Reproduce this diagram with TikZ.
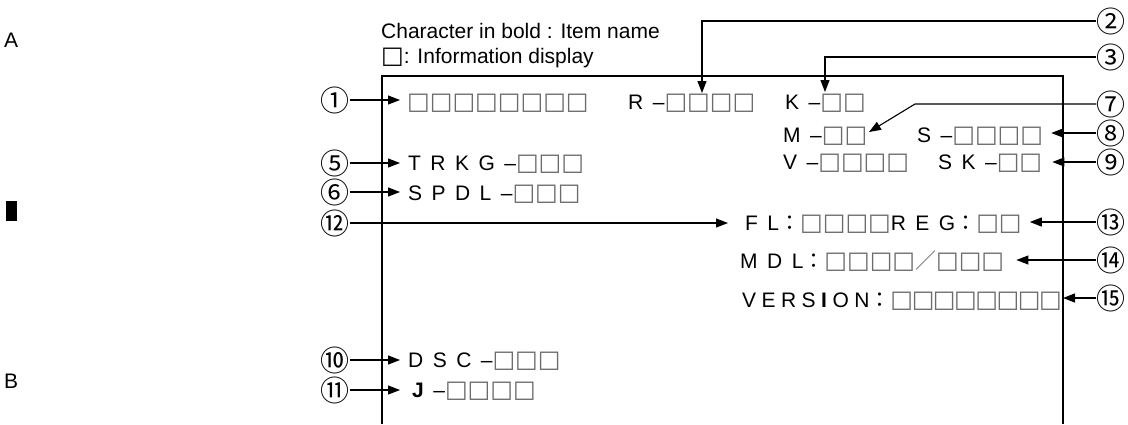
\documentclass[tikz,border=0pt]{standalone}
\usepackage{fontspec}
\setmainfont{Liberation Sans}
\newfontfamily\lsfont[LetterSpace=45]{Liberation Sans}
\newfontfamily\lsnarrow[LetterSpace=26]{Liberation Sans}
\newfontfamily\sqfont{DejaVu Sans}
\newfontfamily\sqnarrow[LetterSpace=-6]{DejaVu Sans}
\newfontfamily\numfont{Noto Sans CJK JP}
\usetikzlibrary{arrows.meta}
\definecolor{boxgray}{gray}{0.42}
\newcommand\sq{{\sqfont\fontsize{24}{28}\selectfont\color{boxgray}□}}
\newcommand\sqrow[1]{{\sqnarrow\fontsize{24}{28}\selectfont\color{boxgray}#1}}
\newcommand\fcolon{{\numfont\fontsize{21}{25}\selectfont ：}}
\newcommand\fslash{{\numfont\fontsize{21}{25}\selectfont\color{boxgray}／}}
\tikzset{
  disp/.style={font=\lsfont\fontsize{21}{25}\selectfont, inner sep=0pt,
    text height=15pt, text depth=0pt, anchor=base west},
  plain/.style={font=\fontsize{21}{25}\selectfont, inner sep=0pt, anchor=base west},
  num/.style={font=\numfont\fontsize{29}{30}\selectfont, inner sep=0pt},
  lead/.style={->, line width=1.1pt},
  frame/.style={line width=2.5pt}
}
\begin{document}
\begin{tikzpicture}[x=1pt, y=-1pt, >={Triangle[length=12pt,width=9pt]}]
    \useasboundingbox (0,0) rectangle (1128,424);

    % legend and margin marks
    \node[plain] (head1) at (381,38) {Character in bold : Item name};
    \node[plain] (head2) at (381,63) {{\sqfont\fontsize{24}{28}\selectfont □}: Information display};
    \node[plain] (markA) at (4,47) {A};
    \node[plain] (markB) at (4,388) {B};
    \fill (6,201) rectangle (17,221);

    % screen frame
    \draw[frame] (382,424) -- (382,76) -- (1063,76) -- (1063,424);

    % display lines
    \node[disp] (t1) at (407,109) {\sq\sq\sq\sq\sq\sq\sq\sq};
    \node[disp] (tR) at (628,109) {R–\sq\sq\sq\sq};
    \node[disp] (tK) at (785,109) {K–\sq\sq};
    \node[disp] (tM) at (783,142) {M–\sq\sq};
    \node[disp] (tS) at (917,142) {S–\sq\sq\sq\sq};
    \node[disp] (tV) at (783,169) {V–\sq\sq\sq\sq};
    \node[disp] (tSK) at (938,169) {SK–\sq\sq};
    \node[disp] (tTRKG) at (408,170) {TRKG–\sq\sq\sq};
    \node[disp] (tSPDL) at (408,200) {SPDL–\sq\sq\sq};
    \node[disp] (tFL) at (745,230) {FL\fcolon\sq\sq\sq\sq REG\fcolon\sq\sq};
    \node[disp] (tMDL) at (740,268) {MDL\fcolon\sq\sq\sq\sq\fslash\sq\sq\sq};
    \node[disp, font=\lsnarrow\fontsize{21}{25}\selectfont] (tVER) at (742,307)
        {VERS\textbf{I}ON\fcolon\sqrow{□□□□□□□□}};
    \node[disp] (tDSC) at (408,367) {DSC–\sq\sq\sq};
    \node[disp] (tJ) at (412,397) {\textbf{J}–\sq\sq\sq\sq};

    % callout numbers, left
    \node[num] (c1) at (335,100) {①};
    \node[num] (c5) at (335,163) {⑤};
    \node[num] (c6) at (335,192) {⑥};
    \node[num] (c12) at (335,223) {⑫};
    \node[num] (c10) at (335,360) {⑩};
    \node[num] (c11) at (335,390) {⑪};
    % callout numbers, right
    \node[num] (c2) at (1111,21) {②};
    \node[num] (c3) at (1111,57) {③};
    \node[num] (c7) at (1111,104) {⑦};
    \node[num] (c8) at (1111,133) {⑧};
    \node[num] (c9) at (1111,162) {⑨};
    \node[num] (c13) at (1111,222) {⑬};
    \node[num] (c14) at (1111,260) {⑭};
    \node[num] (c15) at (1111,298) {⑮};

    \coordinate (p2) at (702,93);
    \coordinate (p3) at (825,92);
    \coordinate (b7) at (915,104);
    \coordinate (p7) at (869,132);
    \coordinate (p15) at (1063,298);

    % leaders
    \draw[lead] (c1.east) -- ([xshift=-7pt]c1.east -| t1.west);
    \draw[lead] (c5.east) -- ([xshift=-8pt]c5.east -| tTRKG.west);
    \draw[lead] (c6.east) -- ([xshift=-8pt]c6.east -| tSPDL.west);
    \draw[lead] (c12.east) -- ([xshift=-17pt]c12.east -| tFL.west);
    \draw[lead] (c10.east) -- ([xshift=-8pt]c10.east -| tDSC.west);
    \draw[lead] (c11.east) -- ([xshift=-12pt]c11.east -| tJ.west);
    \draw[lead] (c2.west) -| (p2);
    \draw[lead] (c3.west) -| (p3);
    \draw[lead] (c7.west) -- (b7) -- (p7);
    \draw[lead] (c8.west) -- ([xshift=8pt]c8.west -| tS.east);
    \draw[lead] (c9.west) -- ([xshift=10pt]c9.west -| tSK.east);
    \draw[lead] (c13.west) -- ([xshift=8pt]c13.west -| tFL.east);
    \draw[lead] (c14.west) -- ([xshift=12pt]c14.west -| tMDL.east);
    \draw[lead] (c15.west) -- (p15);
\end{tikzpicture}
\end{document}
